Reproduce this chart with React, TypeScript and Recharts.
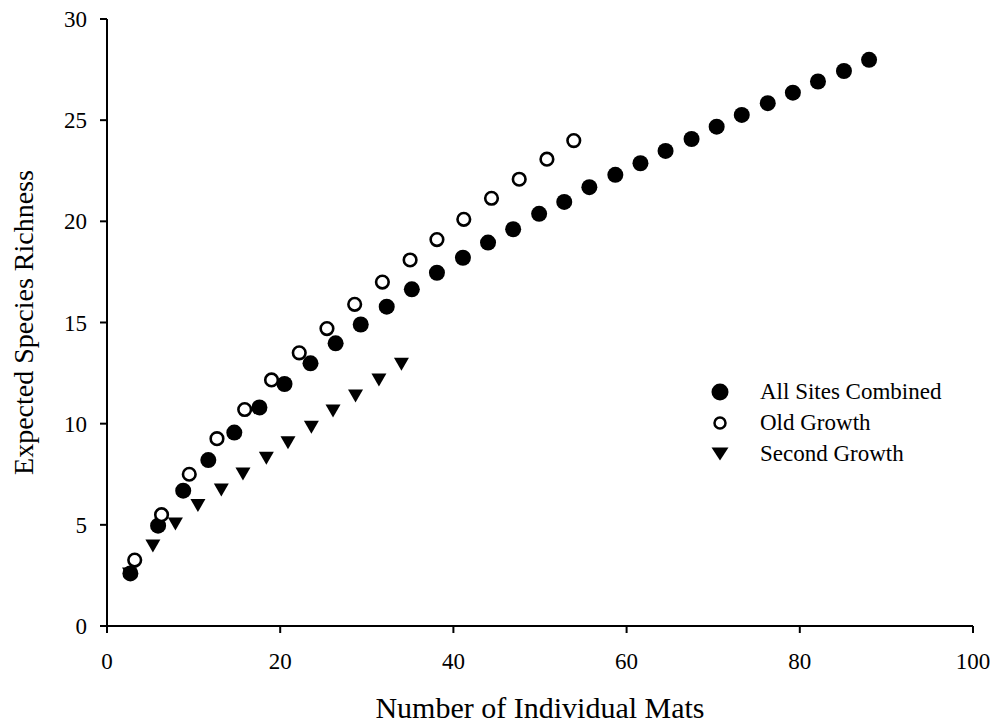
import { ScatterChart, Scatter, XAxis, YAxis, Legend, Label } from "recharts";

// values
const allSitesX = [2.7, 5.9, 8.8, 11.7, 14.7, 17.6, 20.5, 23.5, 26.4, 29.3, 32.3, 35.2, 38.1, 41.1, 44.0, 46.9, 49.9, 52.8, 55.7, 58.7, 61.6, 64.5, 67.5, 70.4, 73.3, 76.3, 79.2, 82.1, 85.1, 88.0];
const allSitesY = [2.6, 4.96, 6.69, 8.2, 9.56, 10.8, 11.96, 12.98, 13.97, 14.9, 15.78, 16.64, 17.46, 18.2, 18.95, 19.61, 20.37, 20.96, 21.69, 22.3, 22.87, 23.48, 24.07, 24.68, 25.26, 25.84, 26.36, 26.91, 27.43, 27.98];

const oldGrowthX = [3.2, 6.3, 9.5, 12.7, 15.9, 19.0, 22.2, 25.4, 28.6, 31.8, 35.0, 38.1, 41.2, 44.4, 47.6, 50.8, 53.9];
const oldGrowthY = [3.26, 5.5, 7.5, 9.26, 10.7, 12.16, 13.5, 14.7, 15.9, 17.0, 18.09, 19.1, 20.1, 21.14, 22.08, 23.07, 23.99];

const secondGrowthX = [2.6, 5.3, 7.9, 10.5, 13.2, 15.7, 18.4, 20.9, 23.6, 26.1, 28.7, 31.4, 34.0];
const secondGrowthY = [2.57, 3.95, 5.04, 5.95, 6.72, 7.51, 8.29, 9.06, 9.82, 10.63, 11.37, 12.16, 12.94];

const xTicks = [0, 20, 40, 60, 80, 100];
const yTicks = [0, 5, 10, 15, 20, 25, 30];

const seriesNames = ["All Sites Combined", "Old Growth", "Second Growth"];

const toPoints = (xs: number[], ys: number[]) => xs.map((x, i) => ({ x, y: ys[i] }));

const FONT = "'Liberation Serif', 'Times New Roman', serif";

const FilledDot = (props: any) => <circle cx={props.cx} cy={props.cy} r={8} fill="#000" />;

const OpenDot = (props: any) => (
  <circle cx={props.cx} cy={props.cy} r={6.3} fill="#fff" stroke="#000" strokeWidth={2.6} />
);

const DownTriangle = (props: any) => {
  const { cx, cy } = props;
  return <path d={`M${cx - 7.5},${cy - 6.5}L${cx + 7.5},${cy - 6.5}L${cx},${cy + 6.5}Z`} fill="#000" />;
};

const legendMarker = (i: number) => {
  if (i === 0) return <circle cx={12} cy={12} r={8.5} fill="#000" />;
  if (i === 1) return <circle cx={12} cy={12} r={5.5} fill="#fff" stroke="#000" strokeWidth={2.5} />;
  return <path d="M3.5,5.5L20.5,5.5L12,18.5Z" fill="#000" />;
};

const renderLegend = () => (
  <div style={{ fontFamily: FONT, fontSize: 23, color: "#000" }}>
    {seriesNames.map((name, i) => (
      <div key={name} style={{ display: "flex", alignItems: "center", height: 31 }}>
        <svg width={24} height={24} style={{ marginRight: 28 }}>
          {legendMarker(i)}
        </svg>
        <span style={{ whiteSpace: "nowrap" }}>{name}</span>
      </div>
    ))}
  </div>
);

export default function App() {
  return (
    <div style={{ position: "absolute", left: 0, top: 0, background: "#fff" }}>
      <ScatterChart width={1003} height={724} margin={{ top: 19, right: 30, bottom: 38, left: 47 }}>
        <XAxis
          type="number"
          dataKey="x"
          domain={[0, 100]}
          ticks={xTicks}
          height={60}
          tickSize={7}
          tickMargin={20}
          axisLine={{ stroke: "#000", strokeWidth: 2 }}
          tickLine={{ stroke: "#000", strokeWidth: 2 }}
          tick={{ fill: "#000", fontSize: 23, fontFamily: FONT }}
        >
          <Label
            content={(p: any) => (
              <text
                x={p.viewBox.x + p.viewBox.width / 2}
                y={p.viewBox.y + 92}
                textAnchor="middle"
                fontFamily={FONT}
                fontSize={30}
                fill="#000"
              >
                Number of Individual Mats
              </text>
            )}
          />
        </XAxis>
        <YAxis
          type="number"
          dataKey="y"
          domain={[0, 30]}
          ticks={yTicks}
          width={60}
          tickSize={7}
          tickMargin={13}
          axisLine={{ stroke: "#000", strokeWidth: 2 }}
          tickLine={{ stroke: "#000", strokeWidth: 2 }}
          tick={{ fill: "#000", fontSize: 23, fontFamily: FONT }}
        >
          <Label
            content={(p: any) => {
              const cx = p.viewBox.x - 14;
              const cy = p.viewBox.y + p.viewBox.height / 2;
              return (
                <text
                  x={cx}
                  y={cy}
                  transform={`rotate(-90, ${cx}, ${cy})`}
                  textAnchor="middle"
                  fontFamily={FONT}
                  fontSize={28}
                  fill="#000"
                >
                  Expected Species Richness
                </text>
              );
            }}
          />
        </YAxis>
        <Legend
          layout="vertical"
          align="center"
          verticalAlign="middle"
          content={renderLegend}
          wrapperStyle={{ position: "absolute", left: 708, top: 376, width: 290 }}
        />
        <Scatter name={seriesNames[0]} data={toPoints(allSitesX, allSitesY)} shape={FilledDot} isAnimationActive={false} />
        <Scatter name={seriesNames[2]} data={toPoints(secondGrowthX, secondGrowthY)} shape={DownTriangle} isAnimationActive={false} />
        <Scatter name={seriesNames[1]} data={toPoints(oldGrowthX, oldGrowthY)} shape={OpenDot} isAnimationActive={false} />
      </ScatterChart>
    </div>
  );
}
